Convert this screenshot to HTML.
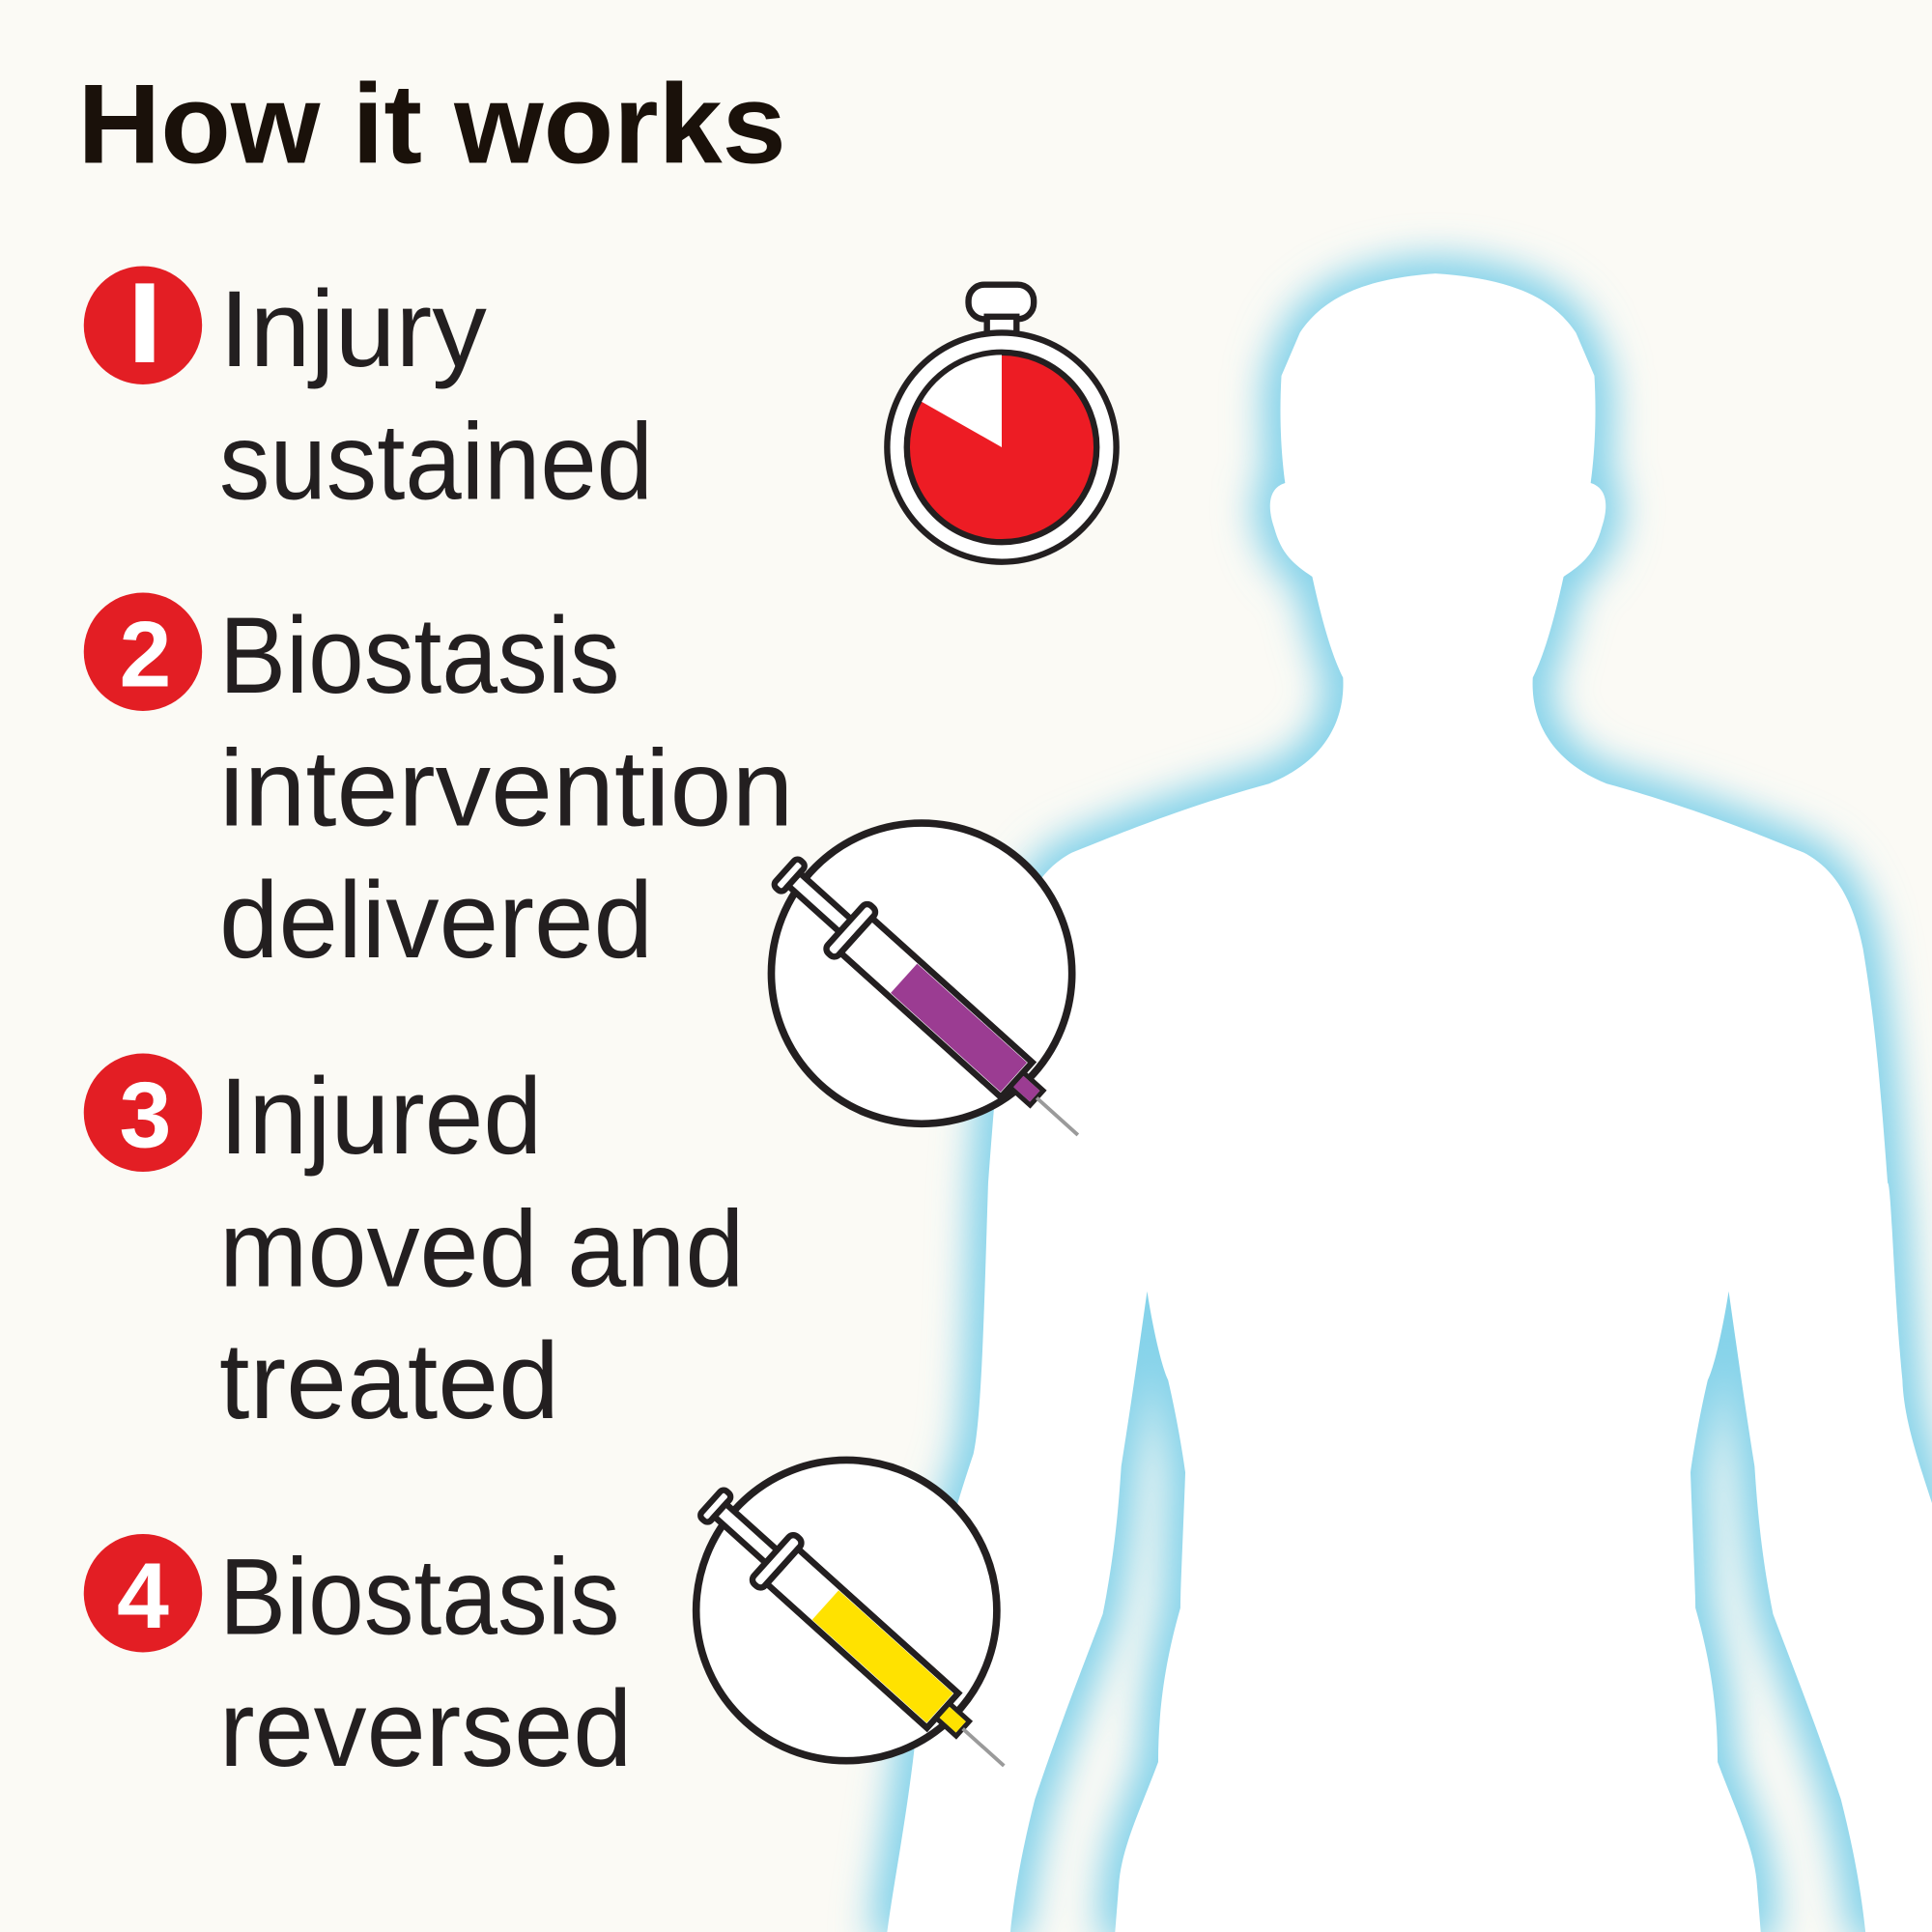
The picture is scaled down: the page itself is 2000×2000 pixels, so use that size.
<!DOCTYPE html>
<html><head><meta charset="utf-8"><style>
html,body{margin:0;padding:0;background:#fbfaf5;}
svg{display:block}
</style></head><body>
<svg width="2000" height="2000" viewBox="0 0 1568 1568" xmlns="http://www.w3.org/2000/svg">
<defs>
<filter id="glow" x="-20%" y="-20%" width="140%" height="140%"><feGaussianBlur stdDeviation="18"/></filter>
<g id="syr">
  <rect x="0" y="-15" width="10" height="30" rx="4" fill="#fff" stroke="#231f20" stroke-width="5"/>
  <rect x="10" y="-7" width="58" height="14" fill="#fff" stroke="#231f20" stroke-width="5"/>
  <rect x="66" y="-26" width="12" height="52" rx="5" fill="#fff" stroke="#231f20" stroke-width="5"/>
  <rect x="78" y="-19" width="175" height="38" fill="#fff" stroke="#231f20" stroke-width="5"/>
  <rect x="253" y="-8" width="22" height="16" fill="#fff" stroke="#231f20" stroke-width="4"/>
  <line x1="275" y1="0" x2="320" y2="0" stroke="#9a9a9a" stroke-width="3"/>
</g>
<path id="bp" d="M1165,222 C1110,226 1075,240 1055,270 L1040,305 C1038,340 1040,370 1043,392 C1030,396 1028,410 1034,428 C1040,450 1050,458 1065,468 C1072,500 1080,530 1090,550 C1092,590 1070,620 1030,636 C960,655 900,680 870,692 C845,705 830,730 822,770 C812,830 808,880 802,960 C799,1050 797,1150 790,1180 C770,1240 752,1300 742,1420 C735,1480 725,1530 720,1568 L820,1568 C825,1520 835,1480 840,1460 C860,1400 880,1350 895,1310 C905,1260 908,1220 910,1190 C918,1140 925,1090 931,1048 C936,1080 943,1110 948,1120 C955,1150 960,1180 962,1195 C960,1250 958,1290 958,1305 C945,1350 940,1390 940,1430 C925,1470 910,1500 908,1530 L905,1568 L1429,1568 L1426,1530 C1424,1500 1409,1470 1394,1430 C1394,1390 1389,1350 1376,1305 C1376,1290 1374,1250 1372,1195 C1374,1180 1379,1150 1386,1120 C1391,1110 1398,1080 1403,1048 C1409,1090 1416,1140 1424,1190 C1426,1220 1429,1260 1439,1310 C1454,1350 1474,1400 1494,1460 C1499,1480 1509,1520 1514,1568 L1568,1568 L1568,1220 C1555,1180 1545,1150 1544,1120 C1537,1050 1535,960 1532,960 C1526,880 1522,830 1512,770 C1504,730 1489,705 1464,692 C1434,680 1374,655 1304,636 C1264,620 1242,590 1244,550 C1254,530 1262,500 1269,468 C1284,458 1294,450 1300,428 C1306,410 1304,396 1291,392 C1294,370 1296,340 1294,305 L1279,270 C1259,240 1224,226 1165,222 Z"/>
</defs>
<rect width="1568" height="1568" fill="#fbfaf5"/>
<g filter="url(#glow)"><use href="#bp" fill="#86d3ea" stroke="#86d3ea" stroke-width="16"/></g>
<g filter="url(#glow)"><use href="#bp" fill="#86d3ea" stroke="#86d3ea" stroke-width="6"/></g>
<use href="#bp" fill="#fff"/>

<text x="63" y="132" font-family="Liberation Sans, sans-serif" font-weight="bold" font-size="92" fill="#1a110a" textLength="575" lengthAdjust="spacingAndGlyphs">How it works</text>

<g font-family="Liberation Sans, sans-serif" font-size="88" fill="#231f20">
<text x="178" y="297" textLength="217" lengthAdjust="spacingAndGlyphs">Injury</text>
<text x="178" y="405" textLength="352" lengthAdjust="spacingAndGlyphs">sustained</text>
<text x="178" y="562" textLength="325" lengthAdjust="spacingAndGlyphs">Biostasis</text>
<text x="178" y="670" textLength="466" lengthAdjust="spacingAndGlyphs">intervention</text>
<text x="178" y="777" textLength="352" lengthAdjust="spacingAndGlyphs">delivered</text>
<text x="178" y="936" textLength="262" lengthAdjust="spacingAndGlyphs">Injured</text>
<text x="178" y="1044" textLength="426" lengthAdjust="spacingAndGlyphs">moved and</text>
<text x="178" y="1151" textLength="276" lengthAdjust="spacingAndGlyphs">treated</text>
<text x="178" y="1326" textLength="325" lengthAdjust="spacingAndGlyphs">Biostasis</text>
<text x="178" y="1433" textLength="335" lengthAdjust="spacingAndGlyphs">reversed</text>
</g>

<g fill="#e31e24">
<circle cx="116" cy="264" r="48"/><circle cx="116" cy="529" r="48"/>
<circle cx="116" cy="903" r="48"/><circle cx="116" cy="1293" r="48"/>
</g>
<g font-family="Liberation Sans, sans-serif" font-weight="bold" font-size="76" fill="#fff" text-anchor="middle">
<rect x="110" y="230" width="15" height="64" fill="#fff"/>
<text x="118" y="557">2</text>
<text x="118" y="931">3</text>
<text x="116" y="1321">4</text>
</g>

<rect x="786" y="231" width="53" height="28" rx="13" fill="#fff" stroke="#231f20" stroke-width="5"/>
<rect x="801" y="257" width="24" height="14" fill="#fff" stroke="#231f20" stroke-width="5"/>
<circle cx="813" cy="363" r="93" fill="#fff" stroke="#231f20" stroke-width="5"/>
<circle cx="813" cy="363" r="77" fill="#ed1c24" stroke="#231f20" stroke-width="5"/>
<path d="M813,363 L813,288 A75,75 0 0 0 748,326 Z" fill="#fff"/>

<circle cx="748" cy="790" r="122" fill="#fff" stroke="#231f20" stroke-width="6"/>
<g transform="translate(637,707) rotate(42)">
<use href="#syr"/>
<rect x="130" y="-16" width="120" height="32" fill="#9b3c92"/>
<rect x="78" y="-19" width="175" height="38" fill="none" stroke="#231f20" stroke-width="5"/>
<rect x="255" y="-6" width="18" height="12" fill="#9b3c92"/>
</g>
<circle cx="687" cy="1307" r="122" fill="#fff" stroke="#231f20" stroke-width="6"/>
<g transform="translate(577,1219) rotate(42)">
<use href="#syr"/>
<rect x="125" y="-16" width="125" height="32" fill="#ffe200"/>
<rect x="78" y="-19" width="175" height="38" fill="none" stroke="#231f20" stroke-width="5"/>
<rect x="255" y="-6" width="18" height="12" fill="#ffe200"/>
</g>
</svg>
</body></html>
